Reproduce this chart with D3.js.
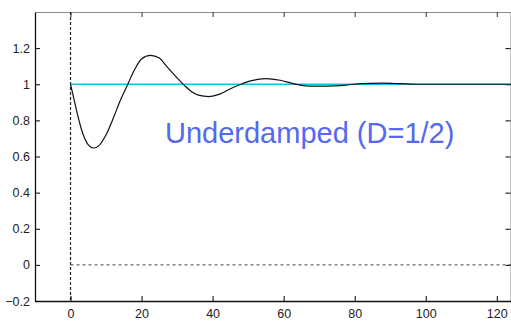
<!DOCTYPE html>
<html>
<head>
<meta charset="utf-8">
<script src="https://cdn.jsdelivr.net/npm/d3@7"></script>
<style>
  body { margin: 0; background: #fff; }
  svg { display: block; font-family: "Liberation Sans", Arial, sans-serif; }
  .tick text { fill: #222; font-size: 12.5px; }
</style>
</head>
<body>
<div id="chart"></div>
<script>
// step response
const timeValues = [0, 1, 2, 3, 4, 5, 6.5, 8, 10, 12, 14, 16, 18, 20, 22.5, 25, 27, 30, 32, 34, 36, 39, 42, 45, 48, 51, 55, 59, 63, 67, 72, 77, 82, 88, 93, 98, 124];
const responseValues = [1.0, 0.915, 0.83, 0.755, 0.70, 0.665, 0.647, 0.66, 0.72, 0.81, 0.91, 0.995, 1.08, 1.14, 1.16, 1.145, 1.10, 1.035, 0.995, 0.96, 0.94, 0.932, 0.945, 0.975, 1.0, 1.02, 1.031, 1.022, 1.002, 0.99, 0.99, 0.994, 1.004, 1.006, 1.003, 1.0, 1.0];
const setpoint = 1;
const xTicks = [0, 20, 40, 60, 80, 100, 120];
const yTicks = [-0.2, 0, 0.2, 0.4, 0.6, 0.8, 1, 1.2];
const label = 'Underdamped (D=1/2)';

const width = 511, height = 322;
const margin = { top: 12, right: 0, bottom: 21, left: 35 };

const svg = d3.select('#chart')
  .append('svg')
  .attr('width', width)
  .attr('height', height);

const x = d3.scaleLinear()
  .domain([-10, 124])
  .range([margin.left, width - margin.right]);

const y = d3.scaleLinear()
  .domain([-0.2, 1.4])
  .range([height - margin.bottom, margin.top]);

// frame: top and right in grey, ticks pointing inward
svg.append('g')
  .attr('transform', `translate(0,${margin.top})`)
  .call(d3.axisTop(x).tickValues(xTicks).tickSizeInner(-5).tickSizeOuter(0).tickFormat(''))
  .call(g => g.select('.domain').attr('stroke', '#888'))
  .call(g => g.selectAll('.tick line').attr('stroke', '#333'));

svg.append('g')
  .attr('transform', `translate(${width - 0.5},0)`)
  .call(d3.axisRight(y).tickValues(yTicks).tickSizeInner(-5).tickSizeOuter(0).tickFormat(''))
  .call(g => g.select('.domain').attr('stroke', '#888'));

// dashed zero lines
svg.append('line')
  .attr('x1', x(0)).attr('x2', x(0))
  .attr('y1', y(1.4)).attr('y2', y(-0.2))
  .attr('stroke', '#222')
  .attr('stroke-width', 1.2)
  .attr('stroke-dasharray', '3,2');

svg.append('line')
  .attr('x1', x(0)).attr('x2', x(124))
  .attr('y1', y(0)).attr('y2', y(0))
  .attr('stroke', '#444')
  .attr('stroke-dasharray', '3,3');

// setpoint
svg.append('line')
  .attr('x1', x(0)).attr('x2', x(124))
  .attr('y1', y(setpoint)).attr('y2', y(setpoint))
  .attr('stroke', '#10c0f0')
  .attr('stroke-width', 1.4);

// response curve
const points = timeValues.map((t, i) => [t, responseValues[i]]);
svg.append('path')
  .datum(points)
  .attr('d', d3.line()
    .x(d => x(d[0]))
    .y(d => y(d[1]))
    .curve(d3.curveMonotoneX))
  .attr('fill', 'none')
  .attr('stroke', '#111')
  .attr('stroke-width', 1.2);

// left and bottom axes
svg.append('g')
  .attr('transform', `translate(0,${height - margin.bottom})`)
  .call(d3.axisBottom(x).tickValues(xTicks).tickSizeInner(-5).tickSizeOuter(0).tickPadding(8).tickFormat(d3.format('d')))
  .call(g => g.select('.domain').attr('stroke', '#111').attr('stroke-width', 1.3))
  .call(g => g.selectAll('.tick text').attr('font-family', null).attr('font-size', null));

svg.append('g')
  .attr('transform', `translate(${margin.left},0)`)
  .call(d3.axisLeft(y).tickValues(yTicks).tickSizeInner(-5).tickSizeOuter(0).tickPadding(5).tickFormat(d => d3.format('')(+d.toFixed(1))))
  .call(g => g.select('.domain').attr('stroke', '#111').attr('stroke-width', 1.3))
  .call(g => g.selectAll('.tick text').attr('font-family', null).attr('font-size', null));

svg.append('text')
  .attr('x', 165)
  .attr('y', 143)
  .attr('fill', '#5468f0')
  .style('font-size', '29px')
  .text(label);
</script>
</body>
</html>
